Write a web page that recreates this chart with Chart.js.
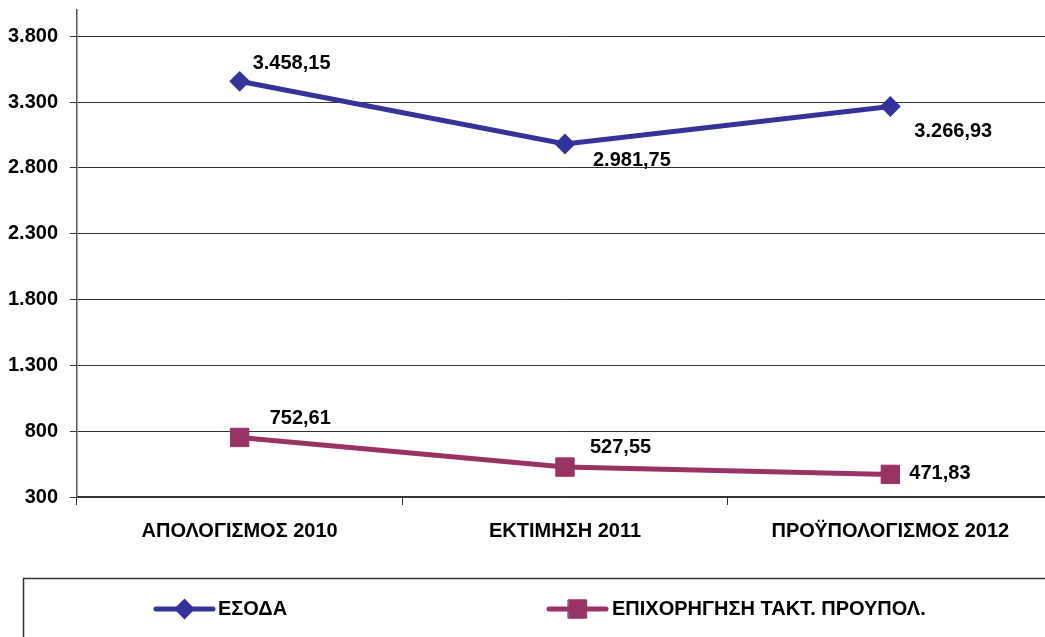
<!DOCTYPE html>
<html>
<head>
<meta charset="utf-8">
<script src="https://cdn.jsdelivr.net/npm/chart.js@4.4.1/dist/chart.umd.min.js"></script>
<style>
  html, body { margin: 0; padding: 0; background: #fff; overflow: hidden; }
  #wrap { position: absolute; left: 0; top: 0; width: 1053px; height: 637px; }
</style>
</head>
<body>
<div id="wrap"><canvas id="lineChart" width="1053" height="637"></canvas></div>
<script>
// Dados do gráfico
const categories = ['ΑΠΟΛΟΓΙΣΜΟΣ 2010', 'ΕΚΤΙΜΗΣΗ 2011', 'ΠΡΟΫΠΟΛΟΓΙΣΜΟΣ 2012'];
const seriesNames = ['ΕΣΟΔΑ', 'ΕΠΙΧΟΡΗΓΗΣΗ ΤΑΚΤ. ΠΡΟΥΠΟΛ.'];
const esoda = [3458.15, 2981.75, 3266.93];
const epixorigisi = [752.61, 527.55, 471.83];
const yTicks = [300, 800, 1300, 1800, 2300, 2800, 3300, 3800];
const yMin = 300;
const yMax = 4000;

const FONT = '"Liberation Sans Narrow", "Arial Narrow", "Liberation Sans", Arial, sans-serif';
const BLUE = '#333399';
const MAGENTA = '#993366';

// formato grego: 3.458,15
function fmt(v, dec) {
    const parts = v.toFixed(dec).split('.');
    parts[0] = parts[0].replace(/\B(?=(\d{3})+(?!\d))/g, '.');
    return parts.length > 1 ? parts[0] + ',' + parts[1] : parts[0];
}

// deslocamento das etiquetas em relação ao ponto (estilo)
const labelOffsets = [
    [[13, -18], [28, 16], [24, 25]],
    [[30, -19], [25, -20], [19, -1]]
];

const valueLabels = {
    id: 'valueLabels',
    afterDatasetsDraw(chart) {
        const ctx = chart.ctx;
        ctx.save();
        ctx.font = 'bold 20px ' + FONT;
        ctx.fillStyle = '#000';
        ctx.textAlign = 'left';
        ctx.textBaseline = 'middle';
        chart.data.datasets.forEach((ds, i) => {
            const meta = chart.getDatasetMeta(i);
            meta.data.forEach((pt, j) => {
                const off = labelOffsets[i][j];
                ctx.fillText(fmt(ds.data[j], 2), pt.x + off[0], pt.y + off[1]);
            });
        });
        ctx.restore();
    }
};

// legenda com caixa, estilo Excel
const legendBox = {
    id: 'legendBox',
    afterDraw(chart) {
        const ctx = chart.ctx;
        ctx.save();
        ctx.strokeStyle = '#333';
        ctx.lineWidth = 1.5;
        ctx.strokeRect(23.5, 578.5, 1100, 120);
        const items = [[156, 213, 218], [549, 606, 612]];
        const y = 609;
        chart.data.datasets.forEach((ds, i) => {
            const it = items[i];
            ctx.strokeStyle = ds.borderColor;
            ctx.lineWidth = 5;
            ctx.lineCap = 'round';
            ctx.beginPath();
            ctx.moveTo(it[0], y);
            ctx.lineTo(it[1], y);
            ctx.stroke();
            ctx.fillStyle = ds.pointBackgroundColor;
            ctx.strokeStyle = ds.pointBorderColor;
            ctx.lineWidth = ds.pointBorderWidth;
            Chart.helpers.drawPoint(ctx, {
                pointStyle: ds.pointStyle,
                radius: ds.pointRadius,
                borderWidth: ds.pointBorderWidth,
                rotation: 0
            }, (it[0] + it[1]) / 2, y);
            ctx.fillStyle = '#000';
            ctx.font = 'bold 20px ' + FONT;
            ctx.textAlign = 'left';
            ctx.textBaseline = 'middle';
            ctx.fillText(ds.label, it[2], y);
        });
        ctx.restore();
    }
};

const ctx = document.getElementById('lineChart').getContext('2d');
new Chart(ctx, {
    type: 'line',
    data: {
        labels: categories,
        datasets: [{
            label: seriesNames[0],
            data: esoda,
            borderColor: BLUE,
            backgroundColor: BLUE,
            borderWidth: 5,
            pointStyle: 'rectRot',
            pointRadius: 9,
            pointBackgroundColor: BLUE,
            pointBorderColor: BLUE,
            pointBorderWidth: 2,
            tension: 0
        }, {
            label: seriesNames[1],
            data: epixorigisi,
            borderColor: MAGENTA,
            backgroundColor: MAGENTA,
            borderWidth: 5,
            pointStyle: 'rect',
            pointRadius: 13,
            pointBackgroundColor: MAGENTA,
            pointBorderColor: MAGENTA,
            pointBorderWidth: 1,
            tension: 0
        }]
    },
    options: {
        responsive: false,
        animation: false,
        layout: { autoPadding: false, padding: { left: 0, right: 0, top: 10, bottom: 80 } },
        plugins: {
            legend: { display: false },
            tooltip: { enabled: false }
        },
        scales: {
            x: {
                offset: true,
                grid: {
                    display: true,
                    drawOnChartArea: false,
                    drawTicks: true,
                    tickLength: 8,
                    offset: true,
                    color: '#333'
                },
                border: { display: true, color: '#333', width: 1.5 },
                ticks: {
                    color: '#000',
                    padding: 14,
                    maxRotation: 0,
                    font: { family: FONT, size: 20, weight: 'bold' }
                },
                afterFit(scale) {
                    scale.height = 60;
                    scale.paddingLeft = 0;
                    scale.paddingRight = 0;
                }
            },
            y: {
                min: yMin,
                max: yMax,
                grid: { color: '#333', lineWidth: 1, tickLength: 7 },
                border: { display: true, color: '#555', width: 1.5 },
                ticks: {
                    color: '#000',
                    padding: 12,
                    font: { family: FONT, size: 20, weight: 'bold' },
                    callback: (v) => fmt(v, 0)
                },
                afterBuildTicks(scale) {
                    scale.ticks = yTicks.map(v => ({ value: v }));
                },
                afterFit(scale) {
                    scale.width = 77;
                    scale.paddingTop = 0;
                    scale.paddingBottom = 0;
                }
            }
        }
    },
    plugins: [valueLabels, legendBox]
});
</script>
</body>
</html>
